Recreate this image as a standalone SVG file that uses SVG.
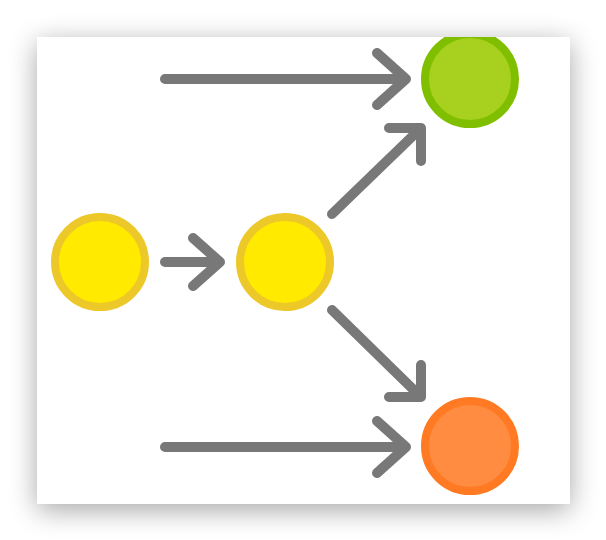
<svg xmlns="http://www.w3.org/2000/svg" width="606" height="540" viewBox="0 0 606 540">
<defs>
<filter id="sh" x="-20%" y="-20%" width="140%" height="140%">
<feGaussianBlur stdDeviation="14"/>
</filter>
<clipPath id="card"><rect x="37" y="37" width="533" height="467"/></clipPath>
<style>
.c{stroke-width:8}
.y{fill:#FFEA00;stroke:#EDC829}
.g{fill:#A8D11F;stroke:#7FBF00}
.o{fill:#FF8C40;stroke:#FF7A22}
.a{fill:none;stroke:#787878;stroke-width:10;stroke-linecap:round;stroke-linejoin:round}
</style>
</defs>
<rect width="606" height="540" fill="#fff"/>
<rect x="37" y="43" width="533" height="467" fill="#000" opacity="0.35" filter="url(#sh)"/>
<rect x="37" y="37" width="533" height="467" fill="#fff"/>
<g clip-path="url(#card)">
<g id="connectors">
<path class="a" d="M165 79H406M377 53L406 79L377 105"/>
<path class="a" d="M165 447H406M377 421L406 447L377 473"/>
<path class="a" d="M165 262H220M193 238L220 262L193 286"/>
<path class="a" d="M332 214L421 128M389 128H421V161"/>
<path class="a" d="M332 310L421 397M389 397H421V365"/>
</g>
<g id="n1"><circle class="c y" cx="100" cy="262" r="45"/></g>
<g id="n2"><circle class="c y" cx="285" cy="262" r="45"/></g>
<g id="n3"><circle class="c g" cx="470" cy="79" r="45"/></g>
<g id="n4"><circle class="c o" cx="470" cy="446" r="45"/></g>
</g>
</svg>
